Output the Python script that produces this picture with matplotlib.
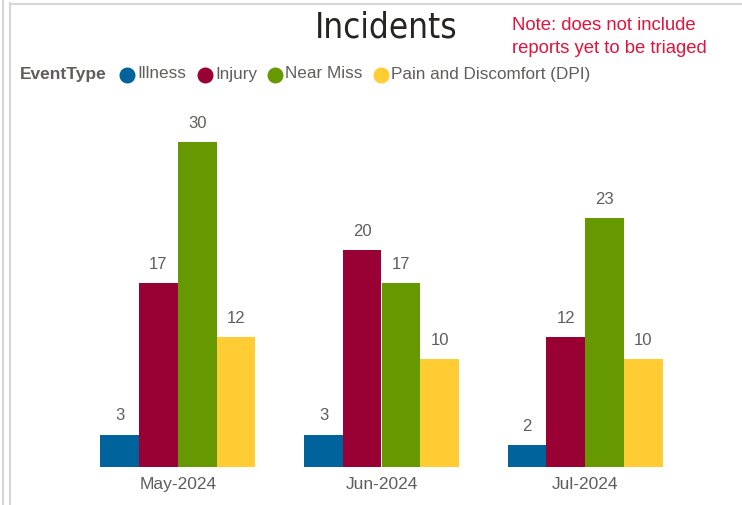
import matplotlib
matplotlib.use("Agg")
import matplotlib.pyplot as plt
from matplotlib.lines import Line2D
import numpy as np

months = ["May-2024", "Jun-2024", "Jul-2024"]
event_types = ["Illness", "Injury", "Near Miss", "Pain and Discomfort (DPI)"]
illness = [3, 3, 2]
injury = [17, 20, 12]
near_miss = [30, 17, 23]
pain = [12, 10, 10]
colors = ["#00639B", "#990033", "#669900", "#FFCC33"]

plt.rcParams["font.family"] = ["Liberation Sans", "DejaVu Sans"]

W, H = 742, 505
fig = plt.figure(figsize=(W / 100, H / 100), dpi=100)
fig.patch.set_facecolor("white")


def px(x, y):
    # pixel coords (top-left origin) -> figure fraction
    return x / W, 1 - y / H


ax = fig.add_axes([76 / W, (H - 467) / H, 611 / W, 367 / H])
x = np.arange(len(months))
width = 0.19
series = [illness, injury, near_miss, pain]
for i, (vals, c) in enumerate(zip(series, colors)):
    pos = x + (i - 1.5) * width
    bars = ax.bar(pos, vals, width, color=c, edgecolor="none")
    for b, v in zip(bars, vals):
        ax.annotate(str(v), (b.get_x() + b.get_width() / 2, v),
                    xytext=(0, 8), textcoords="offset points",
                    ha="center", va="bottom", fontsize=12, color="#605E5C")

ax.set_xlim(-0.5, 2.5)
ax.set_ylim(0, 33.9)
ax.set_xticks(x)
ax.set_xticklabels(months, fontsize=12.5, color="#605E5C")
ax.tick_params(axis="x", length=0, pad=7)
ax.set_yticks([])
for s in ax.spines.values():
    s.set_visible(False)

# title and note
fig.text(*px(386, 27), "Incidents", ha="center", va="center", fontsize=25,
         color="#252423", family=["DejaVu Sans"], fontstretch="condensed")
fig.text(*px(512, 37), "Note: does not include\nreports yet to be triaged",
         ha="left", va="center", fontsize=13.3, color="#E0143C", linespacing=1.4)

# legend
fig.text(*px(20, 74), "EventType", ha="left", va="center", fontsize=12.5,
         fontweight="bold", color="#605E5C")
leg_x = [127, 205, 275, 381]
for lx, name, c in zip(leg_x, event_types, colors):
    fig.add_artist(Line2D([lx / W], [1 - 75 / H], marker="o", markersize=10.5,
                          color=c, linestyle="none", transform=fig.transFigure))
    fig.text(*px(lx + 10, 74), name, ha="left", va="center", fontsize=12.3,
             color="#605E5C")

# frame lines
fig.add_artist(Line2D([2.5 / W, 2.5 / W], [0, 1], color="#D6D6D6", lw=1.5,
                      transform=fig.transFigure))
fig.add_artist(Line2D([9.5 / W, 9.5 / W], [0, 1 - 3 / H], color="#D6D6D6", lw=1.5,
                      transform=fig.transFigure))
fig.add_artist(Line2D([9.5 / W, 1], [1 - 3.5 / H, 1 - 3.5 / H], color="#D6D6D6",
                      lw=1.5, transform=fig.transFigure))

fig.savefig("out.png", dpi=100)
